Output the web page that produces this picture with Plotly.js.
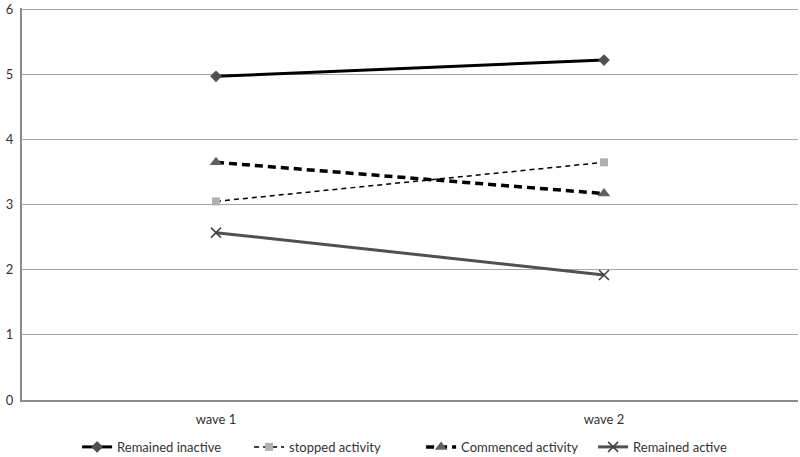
<!DOCTYPE html>
<html>
<head>
<meta charset="utf-8">
<script src="https://cdn.plot.ly/plotly-3.0.1.min.js"></script>
<style>
  body { margin: 0; background: #fff; }
  #plot { width: 800px; height: 457px; }
</style>
</head>
<body>
<div id="plot"></div>
<script>
const waves = ['wave 1', 'wave 2'];
const remainedInactive = [4.97, 5.22];
const stoppedActivity = [3.05, 3.65];
const commencedActivity = [3.65, 3.17];
const remainedActive = [2.57, 1.92];

const traces = [
    {
        x: waves, y: remainedInactive, name: 'Remained inactive',
        mode: 'lines+markers', type: 'scatter',
        line: { color: '#000000', width: 3 },
        marker: { symbol: 'diamond', size: 9, color: '#505050' }
    },
    {
        x: waves, y: stoppedActivity, name: 'stopped activity',
        mode: 'lines+markers', type: 'scatter',
        line: { color: '#000000', width: 1.5, dash: '5px,4px' },
        marker: { symbol: 'square', size: 8, color: '#b0b0b0' }
    },
    {
        x: waves, y: commencedActivity, name: 'Commenced activity',
        mode: 'lines+markers', type: 'scatter',
        line: { color: '#000000', width: 3.5, dash: '8px,5px' },
        marker: { symbol: 'triangle-up', size: 11, color: '#606060' }
    },
    {
        x: waves, y: remainedActive, name: 'Remained active',
        mode: 'lines+markers', type: 'scatter',
        line: { color: '#505050', width: 3 },
        marker: { symbol: 'x-thin', size: 10, line: { color: '#404040', width: 1.5 }, color: '#404040' }
    }
];

const layout = {
    width: 800,
    height: 457,
    margin: { l: 22, r: 2, t: 8, b: 57, autoexpand: false },
    paper_bgcolor: '#ffffff',
    plot_bgcolor: '#ffffff',
    font: { family: 'Lato, "Open Sans", sans-serif', size: 13, color: '#333333' },
    showlegend: true,
    legend: {
        orientation: 'h', x: 0.071, xanchor: 'left',
        yref: 'container', y: 0.022, yanchor: 'middle',
        font: { size: 13, color: '#333333' }, itemwidth: 30,
        entrywidth: 127, entrywidthmode: 'pixels'
    },
    xaxis: {
        type: 'category', range: [-0.5, 1.5],
        showgrid: false, showline: true, linecolor: '#8c8c8c', linewidth: 2,
        ticks: '', zeroline: false, ticklabelstandoff: 6, automargin: false
    },
    yaxis: {
        range: [0, 6.02], tickvals: [0, 1, 2, 3, 4, 5, 6],
        showgrid: true, gridcolor: '#a6a6a6', gridwidth: 1,
        showline: true, linecolor: '#8c8c8c', linewidth: 2,
        zeroline: false, ticks: '', ticklabelstandoff: 4, automargin: false
    }
};

Plotly.newPlot('plot', traces, layout, { displayModeBar: false });
</script>
</body>
</html>
